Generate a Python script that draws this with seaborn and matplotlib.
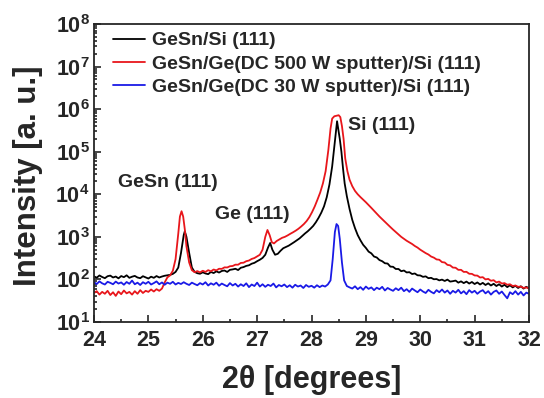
import matplotlib
matplotlib.use('Agg')
import matplotlib.pyplot as plt
import matplotlib.ticker as mticker
import numpy as np
import pandas as pd
import seaborn as sns

# XRD scans
black_x = [24.00, 24.05, 24.10, 24.15, 24.20, 24.25, 24.30, 24.35, 24.40, 24.45, 24.50, 24.55, 24.60, 24.65, 24.70,
           24.75, 24.80, 24.85, 24.90, 24.95, 25.00, 25.05, 25.10, 25.15, 25.20, 25.25, 25.30, 25.35, 25.40, 25.45,
           25.50, 25.55, 25.60, 25.65, 25.67, 25.70, 25.75, 25.80, 25.85, 25.90, 25.95, 26.00, 26.05, 26.10, 26.15,
           26.20, 26.25, 26.30, 26.35, 26.40, 26.45, 26.50, 26.55, 26.60, 26.65, 26.70, 26.75, 26.80, 26.85, 26.90,
           26.95, 27.00, 27.05, 27.10, 27.15, 27.20, 27.24, 27.28, 27.33, 27.38, 27.43, 27.48, 27.53, 27.58, 27.63,
           27.68, 27.73, 27.78, 27.83, 27.88, 27.93, 27.98, 28.03, 28.08, 28.13, 28.18, 28.23, 28.28, 28.33, 28.38,
           28.42, 28.45, 28.47, 28.49, 28.52, 28.55, 28.58, 28.61, 28.65, 28.70, 28.75, 28.80, 28.85, 28.90, 28.95,
           29.00, 29.05, 29.10, 29.15, 29.20, 29.25, 29.30, 29.35, 29.40, 29.45, 29.50, 29.55, 29.60, 29.65, 29.70,
           29.75, 29.80, 29.85, 29.90, 29.95, 30.00, 30.05, 30.10, 30.15, 30.20, 30.25, 30.30, 30.35, 30.40, 30.45,
           30.50, 30.55, 30.60, 30.65, 30.70, 30.75, 30.80, 30.85, 30.90, 30.95, 31.00, 31.05, 31.10, 31.15, 31.20,
           31.25, 31.30, 31.35, 31.40, 31.45, 31.50, 31.55, 31.60, 31.65, 31.70, 31.75, 31.80, 31.85, 31.90, 31.95,
           32.00]
black_y = [118, 110, 124, 114, 107, 119, 123, 111, 117, 106, 120, 113, 125, 109, 116,
           121, 111, 107, 119, 112, 105, 116, 109, 120, 111, 117, 122, 125, 128, 135,
           150, 190, 420, 1100, 1350, 1000, 420, 190, 150, 140, 136, 147, 138, 133, 150,
           141, 155, 145, 158, 162, 150, 168, 172, 178, 166, 188, 195, 208, 215, 234,
           245, 268, 290, 320, 380, 560, 720, 500, 380, 400, 470, 540, 580, 620, 680,
           750, 830, 920, 1050, 1200, 1350, 1550, 1800, 2200, 2800, 3700, 5200, 8500, 17000, 45000,
           130000, 300000, 520000, 350000, 200000, 100000, 40000, 18000, 9000, 4500, 2500, 1600, 1100, 830, 650,
           550, 450, 410, 345, 328, 285, 268, 240, 236, 200, 198, 176, 176, 156, 162,
           146, 148, 134, 138, 125, 124, 115, 118, 107, 109, 101, 102, 95, 99, 92,
           99, 89, 91, 94, 84, 90, 82, 89, 80, 87, 78, 85, 76, 83, 74,
           81, 72, 79, 70, 77, 68, 75, 66, 73, 65, 71, 63, 69, 61, 67,
           62]

red_x = [24.00, 24.05, 24.10, 24.15, 24.20, 24.25, 24.30, 24.35, 24.40, 24.45, 24.50, 24.55, 24.60, 24.65, 24.70,
         24.75, 24.80, 24.85, 24.90, 24.95, 25.00, 25.05, 25.10, 25.15, 25.20, 25.25, 25.30, 25.35, 25.40, 25.45,
         25.50, 25.55, 25.58, 25.61, 25.64, 25.67, 25.70, 25.75, 25.80, 25.85, 25.90, 25.95, 26.00, 26.05, 26.10,
         26.15, 26.20, 26.25, 26.30, 26.35, 26.40, 26.45, 26.50, 26.55, 26.60, 26.65, 26.70, 26.75, 26.80, 26.85,
         26.90, 26.95, 27.00, 27.05, 27.10, 27.15, 27.19, 27.23, 27.27, 27.31, 27.36, 27.41, 27.46, 27.51, 27.56,
         27.61, 27.66, 27.71, 27.76, 27.81, 27.86, 27.91, 27.96, 28.01, 28.06, 28.11, 28.16, 28.21, 28.26, 28.31,
         28.35, 28.38, 28.42, 28.46, 28.50, 28.53, 28.56, 28.59, 28.62, 28.66, 28.70, 28.75, 28.80, 28.85, 28.90,
         28.95, 29.00, 29.05, 29.10, 29.15, 29.20, 29.25, 29.30, 29.35, 29.40, 29.45, 29.50, 29.55, 29.60, 29.65,
         29.70, 29.75, 29.80, 29.85, 29.90, 29.95, 30.00, 30.05, 30.10, 30.15, 30.20, 30.25, 30.30, 30.35, 30.40,
         30.45, 30.50, 30.55, 30.60, 30.65, 30.70, 30.75, 30.80, 30.85, 30.90, 30.95, 31.00, 31.05, 31.10, 31.15,
         31.20, 31.25, 31.30, 31.35, 31.40, 31.45, 31.50, 31.55, 31.60, 31.65, 31.70, 31.75, 31.80, 31.85, 31.90,
         31.95, 32.00]
red_y = [48, 53, 44, 51, 46, 54, 43, 50, 41, 52, 45, 55, 47, 51, 44,
         53, 46, 56, 48, 54, 51, 58, 52, 59, 54, 61, 85, 112, 125, 160,
         300, 1200, 3000, 4000, 3000, 1500, 600, 250, 165, 148, 157, 146, 160, 150, 165,
         155, 171, 163, 178, 177, 192, 191, 204, 207, 222, 222, 244, 247, 268, 278,
         303, 318, 348, 380, 500, 1000, 1450, 1100, 750, 700, 800, 870, 950, 1000, 1080,
         1180, 1280, 1400, 1550, 1750, 2000, 2350, 2900, 3800, 5200, 7500, 11000, 18000, 35000, 110000,
         350000, 600000, 680000, 700000, 720000, 650000, 400000, 200000, 70000, 35000, 22000, 15500, 12000, 10000, 8600,
         7500, 6500, 5600, 4800, 4100, 3500, 3000, 2600, 2250, 1950, 1700, 1480, 1300, 1150, 1000,
         900, 810, 740, 680, 610, 560, 500, 455, 415, 385, 345, 325, 295, 290, 255,
         250, 220, 214, 190, 188, 168, 168, 150, 151, 136, 135, 124, 123, 111, 113,
         100, 103, 93, 96, 85, 89, 80, 82, 75, 77, 70, 72, 67, 68, 63,
         65, 61]

blue_x = [24.00, 24.05, 24.10, 24.15, 24.20, 24.25, 24.30, 24.35, 24.40, 24.45, 24.50, 24.55, 24.60, 24.65, 24.70,
          24.75, 24.80, 24.85, 24.90, 24.95, 25.00, 25.05, 25.10, 25.15, 25.20, 25.25, 25.30, 25.35, 25.40, 25.45,
          25.50, 25.55, 25.60, 25.65, 25.70, 25.75, 25.80, 25.85, 25.90, 25.95, 26.00, 26.05, 26.10, 26.15, 26.20,
          26.25, 26.30, 26.35, 26.40, 26.45, 26.50, 26.55, 26.60, 26.65, 26.70, 26.75, 26.80, 26.85, 26.90, 26.95,
          27.00, 27.05, 27.10, 27.15, 27.20, 27.25, 27.30, 27.35, 27.40, 27.45, 27.50, 27.55, 27.60, 27.65, 27.70,
          27.75, 27.80, 27.85, 27.90, 27.95, 28.00, 28.05, 28.10, 28.15, 28.20, 28.25, 28.30, 28.35, 28.39, 28.43,
          28.46, 28.49, 28.52, 28.56, 28.60, 28.65, 28.70, 28.75, 28.80, 28.85, 28.90, 28.95, 29.00, 29.05, 29.10,
          29.15, 29.20, 29.25, 29.30, 29.35, 29.40, 29.45, 29.50, 29.55, 29.60, 29.65, 29.70, 29.75, 29.80, 29.85,
          29.90, 29.95, 30.00, 30.05, 30.10, 30.15, 30.20, 30.25, 30.30, 30.35, 30.40, 30.45, 30.50, 30.55, 30.60,
          30.65, 30.70, 30.75, 30.80, 30.85, 30.90, 30.95, 31.00, 31.05, 31.10, 31.15, 31.20, 31.25, 31.30, 31.35,
          31.40, 31.45, 31.50, 31.55, 31.60, 31.65, 31.70, 31.75, 31.80, 31.85, 31.90, 31.95, 32.00]
blue_y = [86, 78, 90, 81, 76, 88, 83, 77, 89, 80, 85, 75, 87, 79, 94,
          77, 84, 74, 86, 79, 88, 76, 82, 90, 77, 85, 75, 84, 79, 88,
          76, 83, 78, 86, 79, 74, 84, 78, 73, 82, 76, 86, 72, 81, 75,
          84, 71, 80, 74, 69, 82, 72, 79, 68, 77, 70, 81, 66, 76, 70,
          84, 68, 77, 67, 75, 70, 80, 65, 74, 69, 76, 66, 73, 64, 75,
          68, 72, 63, 74, 67, 71, 64, 73, 66, 72, 68, 76, 95, 300, 1300,
          2000, 1800, 900, 250, 95, 70, 65, 61, 69, 59, 66, 57, 68, 60, 65,
          56, 64, 59, 67, 55, 63, 58, 54, 62, 56, 64, 53, 59, 51, 61,
          55, 50, 58, 52, 48, 57, 51, 47, 56, 50, 58, 49, 55, 46, 54,
          49, 57, 47, 53, 45, 56, 49, 54, 46, 52, 56, 47, 53, 44, 51,
          55, 46, 52, 43, 36, 50, 45, 53, 44, 51, 42, 49, 46]

labels = ['GeSn/Si (111)', 'GeSn/Ge(DC 500 W sputter)/Si (111)', 'GeSn/Ge(DC 30 W sputter)/Si (111)']
colors = ['black', '#e8161b', '#1a1ae6']

sns.set_style('ticks')
plt.rcParams['font.family'] = ['Liberation Sans', 'DejaVu Sans']
plt.rcParams['font.weight'] = 'bold'
plt.rcParams['mathtext.fontset'] = 'custom'
plt.rcParams['mathtext.rm'] = 'Liberation Sans:bold'
plt.rcParams['mathtext.bf'] = 'Liberation Sans:bold'

fig = plt.figure(figsize=(5.44, 3.98), dpi=100)
ax = fig.add_axes([94 / 544, 1 - 322 / 398, 435 / 544, 298 / 398])

series = [(black_x, black_y), (red_x, red_y), (blue_x, blue_y)]
for (xs, ys), lab, col in zip(series, labels, colors):
    df = pd.DataFrame({'theta': xs, 'counts': ys})
    sns.lineplot(data=df, x='theta', y='counts', color=col, lw=1.3, label=lab,
                 sort=False, estimator=None, ax=ax)

ax.set_yscale('log')
ax.set_xlim(24, 32)
ax.set_ylim(1e1, 1e8)
ax.xaxis.set_major_locator(mticker.MultipleLocator(1))
ax.xaxis.set_minor_locator(mticker.MultipleLocator(0.5))
ax.yaxis.set_major_locator(mticker.LogLocator(base=10, numticks=10))
ax.yaxis.set_minor_locator(mticker.LogLocator(base=10, subs=np.arange(2, 10), numticks=100))
ax.yaxis.set_minor_formatter(mticker.NullFormatter())
ax.yaxis.set_major_formatter(mticker.FuncFormatter(lambda v, p: r'$\mathbf{10^{%d}}$' % round(np.log10(v))))

ax.tick_params(which='both', direction='in', top=False, right=False, width=1.2)
ax.tick_params(which='major', length=5, labelsize=15.5)
ax.tick_params(which='minor', length=2.5)
ax.tick_params(axis='x', which='major', pad=6)
ax.tick_params(axis='y', which='major', pad=3)
for lbl in ax.get_xticklabels() + ax.get_yticklabels():
    lbl.set_fontweight('bold')
for sp in ax.spines.values():
    sp.set_linewidth(1.3)

ax.set_xlabel('2θ [degrees]', fontsize=22, fontweight='bold', labelpad=10)
ax.set_ylabel('Intensity [a. u.]', fontsize=22.5, fontweight='bold')
ax.yaxis.set_label_coords(-0.117, 0.49)

ax.text(24.44, 1.86e4, 'GeSn (111)', fontsize=14, fontweight='bold', va='center')
ax.text(26.22, 3.3e3, 'Ge (111)', fontsize=14, fontweight='bold', va='center')
ax.text(28.67, 4.1e5, 'Si (111)', fontsize=14, fontweight='bold', va='center')

ax.legend(loc='upper left', bbox_to_anchor=(0.026, 1.0), frameon=False, handlelength=1.65,
          handletextpad=0.36, labelspacing=0.3, borderaxespad=0.0,
          prop={'weight': 'bold', 'size': 14})

fig.savefig('out.png', dpi=100)
